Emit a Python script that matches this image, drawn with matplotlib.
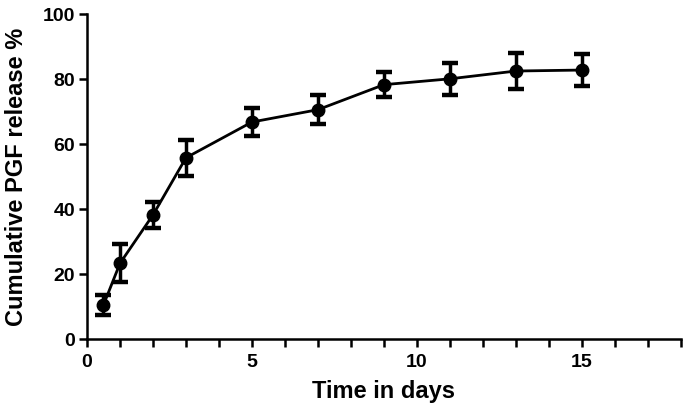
import matplotlib
matplotlib.use('Agg')
import matplotlib.pyplot as plt
from matplotlib.ticker import MultipleLocator

# values
days = [0.5, 1, 2, 3, 5, 7, 9, 11, 13, 15]
release = [10.5, 23.3, 38.2, 55.8, 66.8, 70.6, 78.3, 80.1, 82.5, 82.8]
release_err = [3.0, 5.8, 4.0, 5.5, 4.4, 4.5, 3.8, 5.0, 5.4, 4.9]
x_ticks = [0, 5, 10, 15]
y_ticks = [0, 20, 40, 60, 80, 100]

plt.rcParams['font.family'] = ['Liberation Sans', 'DejaVu Sans']
plt.rcParams['font.weight'] = 'bold'

fig = plt.figure(figsize=(6.85, 4.17), dpi=100)
ax = fig.add_axes([0.127, 0.187, 0.867, 0.779])

ax.errorbar(days, release, yerr=release_err, color='black', linewidth=2,
            elinewidth=2.5, capsize=5.5, capthick=3.2, marker='o',
            markersize=9, clip_on=False, zorder=3)

ax.set_xlim(0, 18)
ax.set_ylim(0, 100)
ax.set_xticks(x_ticks)
ax.set_yticks(y_ticks)
ax.xaxis.set_minor_locator(MultipleLocator(1))

for side in ['top', 'right']:
    ax.spines[side].set_visible(False)
for side in ['left', 'bottom']:
    ax.spines[side].set_linewidth(1.8)

ax.tick_params(which='both', direction='out', length=5.5, width=1.8,
               labelsize=14)
ax.tick_params(axis='x', which='both', pad=5)
ax.tick_params(axis='y', pad=3)
for lab in ax.get_xticklabels() + ax.get_yticklabels():
    lab.set_fontweight('bold')

ax.set_xlabel('Time in days', fontsize=17, fontweight='bold', labelpad=7)
ax.set_ylabel('Cumulative PGF release %', fontsize=17, fontweight='bold',
              labelpad=11)

fig.savefig('out.png', dpi=100)
